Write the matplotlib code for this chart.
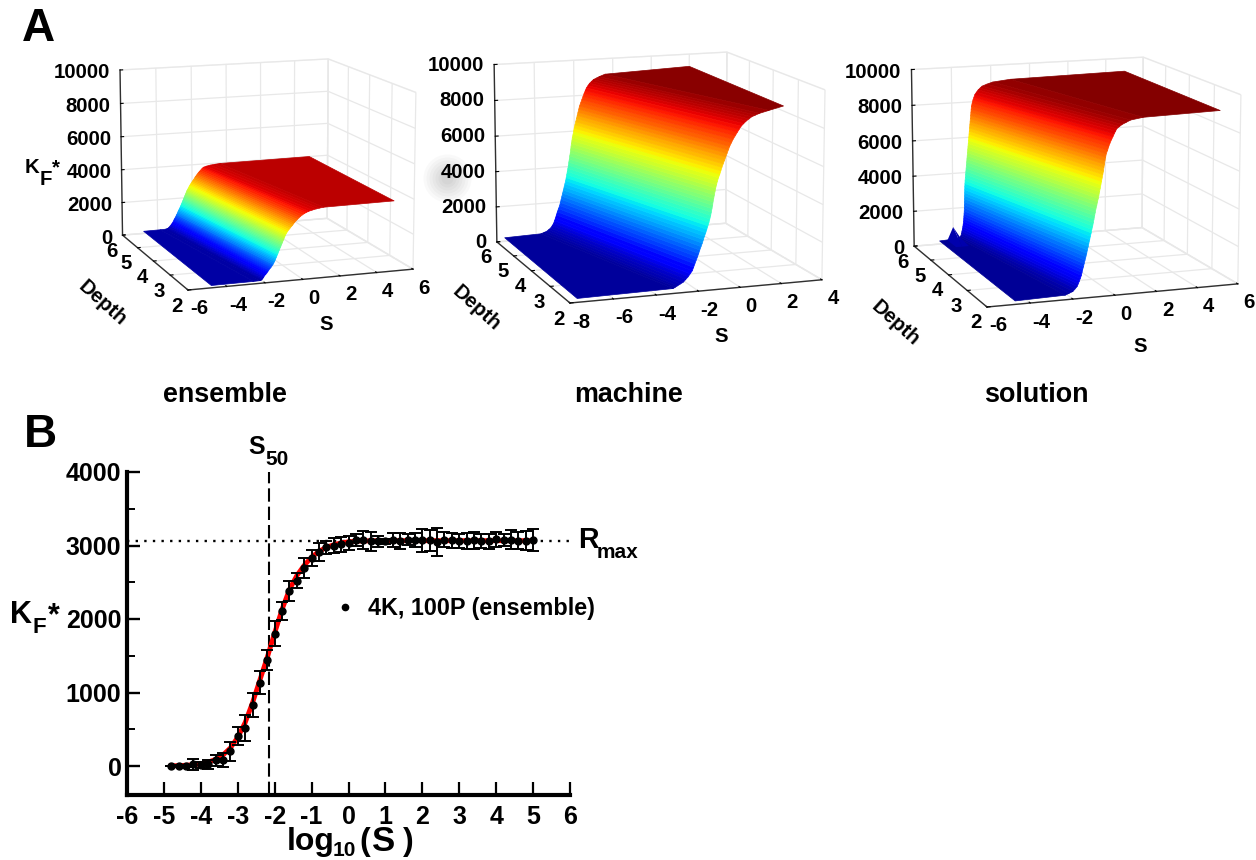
"""Dose response surfaces (top row) and the ensemble curve with error bars (bottom)"""
import matplotlib
matplotlib.use("Agg")
import matplotlib.pyplot as plt
import numpy as np
from mpl_toolkits.mplot3d import proj3d

plt.rcParams['font.family'] = ['Liberation Sans', 'DejaVu Sans']
plt.rcParams['font.weight'] = 'bold'
plt.rcParams['axes.unicode_minus'] = False

WIDTH, HEIGHT = 1256, 860

# top row: KF* levels and the S where the surface reaches them, at both depth edges
depth_edges = [2, 6]
z_ticks = [0, 2000, 4000, 6000, 8000, 10000]
depth_ticks = [2, 3, 4, 5, 6]

ens_kf = [130, 140, 150, 160, 175, 200, 250, 325, 400, 475, 550, 625, 700, 775, 850,
          925, 1000, 1075, 1150, 1225, 1300, 1375, 1450, 1525, 1600, 1675, 1750, 1825, 1900, 1975,
          2050, 2125, 2200, 2275, 2350, 2425, 2500, 2575, 2650, 2725, 2800, 2875, 2950, 3025, 3100,
          3175, 3250, 3325, 3400, 3475, 3550, 3625, 3700, 3750, 3800, 3850, 3900, 3930, 3960, 4000]
ens_s_front = [-4.8, -2.6, -2.25, -2.22, -2.2, -2.16, -2.12, -2.07, -2.03, -1.96, -1.9, -1.85, -1.8, -1.74, -1.68,
               -1.63, -1.58, -1.54, -1.5, -1.47, -1.44, -1.41, -1.38, -1.35, -1.32, -1.29, -1.26, -1.23, -1.2, -1.17,
               -1.14, -1.11, -1.08, -1.05, -1.02, -0.99, -0.96, -0.93, -0.89, -0.85, -0.8, -0.74, -0.68, -0.62, -0.55,
               -0.5, -0.44, -0.37, -0.3, -0.22, -0.14, -0.04, 0.08, 0.18, 0.3, 0.48, 0.7, 0.88, 1.1, 4.9]
ens_s_back = [-4.8, -3.85, -3.55, -3.5, -3.45, -3.4, -3.35, -3.28, -3.22, -3.17, -3.12, -3.08, -3.05, -3.01, -2.97,
              -2.93, -2.9, -2.86, -2.83, -2.8, -2.76, -2.73, -2.69, -2.66, -2.63, -2.6, -2.57, -2.54, -2.51, -2.48,
              -2.45, -2.42, -2.39, -2.36, -2.33, -2.3, -2.26, -2.22, -2.18, -2.14, -2.1, -2.05, -2.0, -1.95, -1.9,
              -1.85, -1.81, -1.75, -1.7, -1.64, -1.58, -1.51, -1.44, -1.39, -1.33, -1.18, -0.95, -0.7, -0.4, 4.9]

mac_kf = [200, 260, 320, 380, 465, 550, 675, 800, 950, 1100, 1275, 1450, 1625, 1800, 1975,
          2150, 2325, 2500, 2675, 2850, 3025, 3200, 3375, 3550, 3725, 3900, 4075, 4250, 4425, 4600,
          4775, 4950, 5125, 5300, 5475, 5650, 5825, 6000, 6175, 6350, 6525, 6700, 6875, 7050, 7225,
          7400, 7575, 7750, 7925, 8100, 8250, 8400, 8525, 8650, 8750, 8850, 8925, 9000, 9120, 9300]
mac_s_front = [-7.67, -3.2, -3.1, -3.0, -2.86, -2.72, -2.61, -2.5, -2.4, -2.3, -2.24, -2.18, -2.12, -2.06, -2.0,
               -1.95, -1.89, -1.83, -1.78, -1.73, -1.67, -1.62, -1.57, -1.52, -1.48, -1.44, -1.41, -1.38, -1.35, -1.33,
               -1.3, -1.27, -1.24, -1.21, -1.17, -1.13, -1.08, -1.02, -0.97, -0.92, -0.86, -0.8, -0.74, -0.68, -0.62,
               -0.56, -0.48, -0.4, -0.3, -0.2, -0.11, -0.02, 0.1, 0.22, 0.35, 0.48, 0.66, 0.85, 1.3, 2.0]
mac_s_back = [-7.6, -5.75, -5.6, -5.45, -5.35, -5.25, -5.17, -5.1, -5.05, -5.0, -4.95, -4.9, -4.84, -4.78, -4.74,
              -4.7, -4.66, -4.62, -4.58, -4.54, -4.5, -4.46, -4.43, -4.4, -4.37, -4.34, -4.31, -4.29, -4.26, -4.24,
              -4.21, -4.19, -4.17, -4.15, -4.12, -4.1, -4.06, -4.03, -4.0, -3.96, -3.92, -3.88, -3.84, -3.8, -3.76,
              -3.72, -3.66, -3.6, -3.54, -3.48, -3.42, -3.36, -3.28, -3.2, -3.1, -3.0, -2.85, -2.7, -2.4, 2.0]

sol_kf = [180, 240, 320, 400, 520, 640, 770, 900, 1050, 1200, 1350, 1500, 1650, 1800, 1975,
          2150, 2325, 2500, 2675, 2850, 3025, 3200, 3375, 3550, 3725, 3900, 4075, 4250, 4425, 4600,
          4775, 4950, 5125, 5300, 5475, 5650, 5825, 6000, 6175, 6350, 6525, 6700, 6875, 7050, 7225,
          7400, 7575, 7750, 7925, 8100, 8250, 8400, 8525, 8650, 8750, 8850, 8950, 9050, 9150, 9250]
sol_s_front = [-4.7, -2.36, -2.18, -2.0, -1.9, -1.8, -1.75, -1.7, -1.65, -1.6, -1.57, -1.54, -1.5, -1.47, -1.43,
               -1.39, -1.35, -1.32, -1.28, -1.25, -1.21, -1.18, -1.14, -1.11, -1.07, -1.04, -1.01, -0.98, -0.95, -0.92,
               -0.88, -0.85, -0.81, -0.78, -0.75, -0.72, -0.69, -0.66, -0.63, -0.6, -0.57, -0.55, -0.52, -0.5, -0.47,
               -0.44, -0.38, -0.33, -0.27, -0.2, -0.13, -0.07, -0.01, 0.05, 0.17, 0.3, 0.5, 0.7, 1.3, 5.0]
sol_s_back = [-4.7, -3.7, -3.65, -3.6, -3.57, -3.55, -3.52, -3.5, -3.48, -3.46, -3.45, -3.44, -3.43, -3.42, -3.415,
              -3.41, -3.405, -3.4, -3.395, -3.39, -3.385, -3.38, -3.37, -3.36, -3.345, -3.33, -3.315, -3.3, -3.285, -3.27,
              -3.255, -3.24, -3.225, -3.21, -3.195, -3.18, -3.165, -3.15, -3.135, -3.12, -3.105, -3.09, -3.075, -3.06, -3.045,
              -3.03, -3.015, -3.0, -2.96, -2.92, -2.87, -2.82, -2.74, -2.65, -2.55, -2.45, -2.2, -1.9, -1.0, 5.0]

# small spike on the back edge of the solution surface
spike_s = [-4.3, -4.0, -3.65]
spike_depth = [5.5, 6]
spike_kf = [[180, 180, 180], [180, 920, 300]]

# bottom panel
log_s = [-4.8, -4.6, -4.4, -4.2, -4.0, -3.8, -3.6, -3.4, -3.2, -3.0, -2.8, -2.6, -2.4, -2.2, -2.0,
         -1.8, -1.6, -1.4, -1.2, -1.0, -0.8, -0.6, -0.4, -0.2, 0.0, 0.2, 0.4, 0.6, 0.8, 1.0,
         1.2, 1.4, 1.6, 1.8, 2.0, 2.2, 2.4, 2.6, 2.8, 3.0, 3.2, 3.4, 3.6, 3.8, 4.0, 4.2, 4.4, 4.6, 4.8, 5.0]
kf_mean = [0, 0, 5, 22, 9, 22, 81, 81, 200, 405, 522, 833, 1135, 1441, 1802,
           2108, 2378, 2522, 2694, 2829, 2914, 2973, 2996, 3018, 3035, 3071, 3076, 3057, 3057, 3057,
           3071, 3062, 3080, 3076, 3071, 3071, 3048, 3080, 3071, 3067, 3057, 3071, 3062, 3057, 3085, 3076, 3080, 3062, 3062, 3076]
kf_err = [5, 10, 15, 72, 40, 63, 75, 95, 128, 126, 178, 165, 158, 140, 164,
          128, 133, 100, 142, 106, 124, 95, 100, 100, 90, 80, 125, 130, 75, 30,
          95, 105, 70, 95, 160, 145, 190, 100, 100, 95, 110, 115, 100, 100, 100, 80, 130, 115, 130, 155]
kf_fit = [2, 5, 10, 17, 30, 52, 90, 150, 245, 390, 590, 860, 1170, 1480, 1810,
          2130, 2400, 2590, 2730, 2840, 2920, 2975, 3010, 3035, 3050, 3058, 3062, 3064, 3065, 3066,
          3066, 3066, 3066, 3066, 3066, 3066, 3066, 3066, 3066, 3066, 3066, 3066, 3066, 3066, 3066, 3066, 3066, 3066, 3066, 3066]
s50 = -2.14
r_max = 3062
b_xticks = [-6, -5, -4, -3, -2, -1, 0, 1, 2, 3, 4, 5, 6]
b_yticks = [0, 1000, 2000, 3000, 4000]
b_yminor = [500, 1500, 2500, 3500]


def fpos(x, y):
    """pixel position measured from the top left -> figure fraction"""
    return x / WIDTH, 1 - y / HEIGHT


def put(x, y, s, size, **kw):
    fig.text(*fpos(x, y), s, fontsize=size, fontweight='bold', **kw)


def project(ax, pt):
    x, y, _ = proj3d.proj_transform(pt[0], pt[1], pt[2], ax.get_proj())
    return ax.transData.transform((x, y))


def fit_box(ax, pt_a, px_a, pt_b, px_b):
    """move and scale the 3d axes so that two box corners land on given pixels"""
    target_a = np.array([px_a[0], HEIGHT - px_a[1]], float)
    target_b = np.array([px_b[0], HEIGHT - px_b[1]], float)
    for _ in range(3):
        ax.apply_aspect()
        a, b = project(ax, pt_a), project(ax, pt_b)
        scale = np.linalg.norm(target_b - target_a) / np.linalg.norm(b - a)
        pos = ax.get_position(original=True)
        ax.set_position([pos.x0, pos.y0, pos.width * scale, pos.height * scale])
        ax.apply_aspect()
        a = project(ax, pt_a)
        shift = (target_a - a) / [WIDTH, HEIGHT]
        pos = ax.get_position(original=True)
        ax.set_position([pos.x0 + shift[0], pos.y0 + shift[1], pos.width, pos.height])
        ax.apply_aspect()


def tick_text(ax, pt, s, off, ha):
    x, y = project(ax, pt)
    put(x + off[0], HEIGHT - y + off[1], s, 14.7, ha=ha, va='center')


def surface_panel(kf, s_front, s_back, s_lim, s_ticks, corners, vmax, z_aspect, z_off):
    ax = fig.add_axes([0.1, 0.5, 0.3, 0.4], projection='3d', computed_zorder=False)
    ax.set_proj_type('persp', focal_length=1)
    ax.view_init(elev=11.7, azim=-109.5)
    ax.set_box_aspect((1, 1, z_aspect), zoom=1)
    ax.patch.set_alpha(0)
    X = np.array([s_front, s_back], float)
    Y = np.array([[depth_edges[0]] * len(kf), [depth_edges[1]] * len(kf)], float)
    Z = np.array([kf, kf], float)
    surf = ax.plot_surface(X, Y, Z, rstride=1, cstride=1, cmap='jet', vmin=0, vmax=vmax,
                           shade=False, linewidth=0.5, antialiased=True, zorder=2)
    ax.set_xlim(*s_lim)
    ax.set_ylim(2, 6)
    ax.set_zlim(0, 10000)
    surf.set_edgecolor('face')
    ax.set_xticks(s_ticks, [''] * len(s_ticks))
    ax.set_yticks(depth_ticks, [''] * len(depth_ticks))
    ax.set_zticks(z_ticks, [''] * len(z_ticks))
    for axis in (ax.xaxis, ax.yaxis, ax.zaxis):
        axis.pane.set_facecolor('white')
        axis.pane.set_edgecolor('#e8e8e8')
        axis.line.set_color('#303030')
        axis.line.set_linewidth(1)
        axis._axinfo['grid'].update(color='#e8e8e8', linewidth=0.9)
        axis._axinfo['tick'].update(inward_factor=0.0, outward_factor=0.15)
        axis._axinfo['tick']['color'] = '#303030'
    fit_box(ax, (s_lim[0], 2, 0), corners[0], (s_lim[1], 2, 0), corners[1])
    for t in s_ticks:
        tick_text(ax, (t, 2, 0), str(t), (11, 19), 'center')
    for t in depth_ticks:
        tick_text(ax, (s_lim[0], t, 0), str(t), (-11, 16), 'center')
    for t in z_ticks:
        tick_text(ax, (s_lim[0], 6, t), str(t), (-10, z_off), 'right')
    return ax


fig = plt.figure(figsize=(WIDTH / 100, HEIGHT / 100), dpi=100)

# soft grey smudge beside the 4000 label of the middle panel
smudge = fig.add_axes([0, 0, 1, 1], zorder=-1)
smudge.set_xlim(0, WIDTH)
smudge.set_ylim(HEIGHT, 0)
smudge.axis('off')
for r in (24, 21, 18, 15, 12, 9, 6):
    smudge.scatter([447], [178], s=(2 * r * 0.72) ** 2, color='black', alpha=0.025, linewidths=0)

surface_panel(ens_kf, ens_s_front, ens_s_back, (-6, 6), [-6, -4, -2, 0, 2, 4, 6],
              [(188, 290), (413, 269)], 4200, 0.76, 3)
surface_panel(mac_kf, mac_s_front, mac_s_back, (-8, 4), [-8, -6, -4, -2, 0, 2, 4],
              [(570, 303), (822, 281)], 9300, 0.73, 0.5)
ax_sol = surface_panel(sol_kf, sol_s_front, sol_s_back, (-6, 6), [-6, -4, -2, 0, 2, 4, 6],
                       [(987, 307), (1238, 286)], 9250, 0.73, 2.5)
spike = ax_sol.plot_surface(np.array([spike_s, spike_s], float),
                            np.array([[spike_depth[0]] * 3, [spike_depth[1]] * 3], float),
                            np.array(spike_kf, float), rstride=1, cstride=1, cmap='jet', vmin=0, vmax=9250,
                            shade=False, linewidth=0, zorder=3)

# axis names of the top row
for x0, y0, dx, dy in [(102, 303, 326, 325), (476, 308, 721, 336), (895, 323, 1140, 346)]:
    put(x0, y0, 'Depth', 14.7, rotation=-42, ha='center', va='center', rotation_mode='anchor')
    put(dx, dy, 'S', 14.7, ha='center', va='center')
put(25, 173, 'K', 14.7)
put(40, 185, 'F', 14.7)
put(52, 173, '*', 14.7)
put(225, 395, 'ensemble', 19.4, ha='center', va='center')
put(629, 395, 'machine', 19.4, ha='center', va='center')
put(1036, 395, 'solution', 19.4, ha='center', va='center')
put(22, 41, 'A', 33)
put(24, 447, 'B', 33)

# bottom panel
ax = fig.add_axes([127 / WIDTH, 1 - 795.4 / HEIGHT, (570 - 127) / WIDTH, (795.4 - 472) / HEIGHT])
ax.plot(log_s, kf_fit, color='red', lw=3.5, zorder=2)
ax.errorbar(log_s, kf_mean, yerr=kf_err, fmt='none', ecolor='black', elinewidth=1.4,
            capsize=4.5, capthick=1.4, zorder=3)
ax.plot(log_s, kf_mean, 'o', color='black', ms=5, zorder=4)
ax.axvline(s50, color='black', lw=1.5, dashes=(6.4, 2.4), clip_on=False, zorder=1)
ax.plot([-6, 6.05], [r_max, r_max], color='black', lw=1.7, dashes=(1, 2.65), zorder=1, clip_on=False)
ax.set_xlim(-6, 6)
ax.set_ylim(-400, 4000)
ax.set_xticks(b_xticks)
ax.set_yticks(b_yticks)
ax.set_yticks(b_yminor, minor=True)
ax.spines['top'].set_visible(False)
ax.spines['right'].set_visible(False)
ax.spines['left'].set_linewidth(3)
ax.spines['bottom'].set_linewidth(3)
ax.tick_params(axis='x', which='major', direction='in', length=9.5, width=1.6, labelsize=18, pad=7)
ax.tick_params(axis='y', which='major', direction='in', length=9, width=1.7, labelsize=18, pad=4)
ax.tick_params(axis='y', which='minor', direction='in', length=5.5, width=1.4)

put(248, 454, 'S', 18)
put(265, 465, '50', 15)
put(578, 548, 'R', 20.6)
put(597, 558, 'max', 15)
put(10, 623, 'K', 22)
put(33, 633, 'F', 16)
put(48, 624, '*', 22)
put(287, 850, 'log', 23)
put(333, 856, '10', 15)
put(359, 850, '(', 23)
put(372, 851, 'S', 25)
put(403, 850, ')', 23)
put(368, 615, '4K, 100P (ensemble)', 16.8)
ax.plot([-0.09], [2163], 'o', color='black', ms=4.5, clip_on=False)

fig.savefig('out.png', dpi=100)
